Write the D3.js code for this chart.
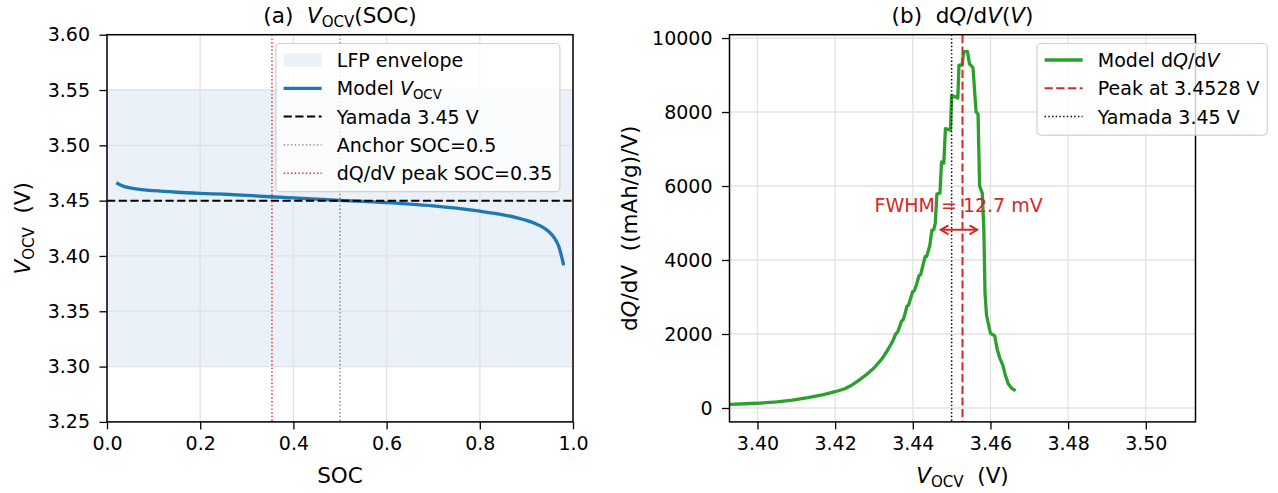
<!DOCTYPE html>
<html>
<head>
<meta charset="utf-8">
<script src="https://cdn.jsdelivr.net/npm/d3@7"></script>
<style>
  body { margin: 0; background: #fff; }
  text { font-family: "DejaVu Sans", sans-serif; white-space: pre; }
</style>
</head>
<body>
<svg id="chart"></svg>
<script>
// ---------------- data ----------------
// panel (a): open circuit voltage vs state of charge
var socValues  = [0.02, 0.03, 0.05, 0.075, 0.10, 0.15, 0.20, 0.25, 0.30, 0.35, 0.40, 0.45, 0.50, 0.55, 0.60,
                  0.65, 0.70, 0.75, 0.80, 0.85, 0.88, 0.90, 0.92, 0.93, 0.94, 0.95, 0.96, 0.97, 0.98];
var vocvValues = [3.4662, 3.4640, 3.4615, 3.4600, 3.4590, 3.4576, 3.4566, 3.4558, 3.4548, 3.4535, 3.4525, 3.4514, 3.4503, 3.4494, 3.4482,
                  3.4469, 3.4453, 3.4432, 3.4405, 3.4372, 3.4345, 3.4322, 3.4292, 3.4272, 3.4247, 3.4213, 3.4163, 3.4080, 3.3915];
var lfpEnvelope = [3.30, 3.55];
var yamadaV = 3.45;
var anchorSoc = 0.5;
var peakSoc = 0.354;

// panel (b): differential capacity vs voltage
var dqdvVoltage = [3.3929, 3.3970, 3.4010, 3.4050, 3.4090, 3.4130, 3.4170, 3.4200, 3.4225, 3.4240, 3.4260, 3.4280, 3.4300, 3.4320,
                   3.4335, 3.4348, 3.4356, 3.4361, 3.4366, 3.4371, 3.4375, 3.4380, 3.4385, 3.4389, 3.4394, 3.4400, 3.4404, 3.4410,
                   3.4416, 3.4420, 3.4426, 3.4432, 3.4436, 3.4444, 3.4449, 3.4454, 3.4458, 3.4462, 3.4470, 3.4474, 3.4480, 3.4484,
                   3.4497, 3.4500, 3.4516, 3.4519, 3.4527, 3.4531, 3.4541, 3.4546, 3.4555, 3.4563, 3.4568, 3.4572, 3.4579, 3.4583,
                   3.4586, 3.4590, 3.4600, 3.4611, 3.4617, 3.4624, 3.4632, 3.4638, 3.4646, 3.4655, 3.4665];
var dqdvValues  = [100, 115, 135, 165, 210, 280, 360, 440, 520, 600, 740, 900, 1080, 1320,
                   1560, 1800, 2000, 2050, 2200, 2350, 2380, 2550, 2750, 2780, 2950, 3150, 3170, 3350,
                   3580, 3600, 3850, 4100, 4100, 4400, 4800, 4820, 5000, 5780, 5810, 6650, 6620, 7550,
                   7510, 8450, 8380, 9270, 9270, 9630, 9630, 9300, 9200, 8000, 7950, 6000, 5800, 4800,
                   3100, 2500, 2020, 1950, 1600, 1350, 1150, 900, 650, 530, 470];
var peakV = 3.4528;
var fwhmEnds = [3.4472, 3.4566];
var fwhmLevel = 4815;
var fwhmLabelAt = [3.4518, 5300];

// ticks
var socTicks  = [0.0, 0.2, 0.4, 0.6, 0.8, 1.0];
var vocvTicks = [3.25, 3.30, 3.35, 3.40, 3.45, 3.50, 3.55, 3.60];
var voltTicks = [3.40, 3.42, 3.44, 3.46, 3.48, 3.50];
var dqdvTicks = [0, 2000, 4000, 6000, 8000, 10000];

// ---------------- setup ----------------
var fs = 19;      // ticks, legend, annotation
var fsL = 21.5;   // titles, axis labels
var svg = d3.select("#chart").attr("width", 1278).attr("height", 493);

var boxL = {x0: 107, x1: 573, y0: 34.7, y1: 421.9};
var boxR = {x0: 729.5, x1: 1195.5, y0: 34.7, y1: 421.9};

var xL = d3.scaleLinear().domain([0, 1]).range([boxL.x0, boxL.x1]);
var yL = d3.scaleLinear().domain([3.25, 3.60]).range([boxL.y1, boxL.y0]);
var xR = d3.scaleLinear().domain([3.3928, 3.5128]).range([boxR.x0, boxR.x1]);
var yR = d3.scaleLinear().domain([-376, 10090]).range([boxR.y1, boxR.y0]);

var defs = svg.append("defs");
[["clipL", boxL], ["clipR", boxR]].forEach(function (c) {
  defs.append("clipPath").attr("id", c[0]).append("rect")
    .attr("x", c[1].x0).attr("y", c[1].y0)
    .attr("width", c[1].x1 - c[1].x0).attr("height", c[1].y1 - c[1].y0);
});

// text with italic / subscript pieces (mathtext look-alike)
function rich(sel, parts, size) {
  var shift = 0;
  parts.forEach(function (p) {
    var t = sel.append("tspan").text(p[0]);
    if (p[1] === "i") t.attr("font-style", "italic");
    if (p[1] === "sub") {
      t.attr("font-size", size * 0.7).attr("dy", size * 0.19);
      shift = size * 0.19;
    } else if (shift) {
      t.attr("dy", -shift);
      shift = 0;
    }
  });
  return sel;
}

function grid(g, box, xs, ys, xt, yt) {
  g.append("g").selectAll("line").data(xt).join("line")
    .attr("x1", function (d) { return xs(d); }).attr("x2", function (d) { return xs(d); })
    .attr("y1", box.y0).attr("y2", box.y1)
    .attr("stroke", "#e2e2e2").attr("stroke-width", 1.3);
  g.append("g").selectAll("line").data(yt).join("line")
    .attr("y1", function (d) { return ys(d); }).attr("y2", function (d) { return ys(d); })
    .attr("x1", box.x0).attr("x2", box.x1)
    .attr("stroke", "#e2e2e2").attr("stroke-width", 1.3);
}

function styleAxis(a) {
  a.attr("font-size", fs).attr("font-family", "DejaVu Sans");
  a.select(".domain").remove();
  a.selectAll("line").attr("stroke", "#000").attr("stroke-width", 1.3);
  a.selectAll("text").attr("fill", "#000");
}

function axes(g, box, xs, ys, xt, yt, xf, yf) {
  g.append("g").attr("transform", "translate(0," + box.y1 + ")")
    .call(d3.axisBottom(xs).tickValues(xt).tickFormat(xf).tickSize(7.5).tickPadding(7.3))
    .call(styleAxis);
  g.append("g").attr("transform", "translate(" + box.x0 + ",0)")
    .call(d3.axisLeft(ys).tickValues(yt).tickFormat(yf).tickSize(7.5).tickPadding(9.5))
    .call(styleAxis);
  g.append("rect").attr("x", box.x0).attr("y", box.y0)
    .attr("width", box.x1 - box.x0).attr("height", box.y1 - box.y0)
    .attr("fill", "none").attr("stroke", "#000").attr("stroke-width", 1.5);
}

function legend(g, x, y, items) {
  var lg = g.append("g");
  var rect = lg.append("rect");
  var rowH = 28.3, maxW = 0;
  items.forEach(function (it, i) {
    var cy = y + 16.5 + i * rowH;
    if (it.kind === "patch") {
      lg.append("rect").attr("x", x + 7.6).attr("y", cy - 6.7).attr("width", 38).attr("height", 13.4)
        .attr("fill", it.fill);
    } else {
      lg.append("line").attr("x1", x + 7.6).attr("x2", x + 45.6).attr("y1", cy).attr("y2", cy)
        .attr("stroke", it.stroke).attr("stroke-width", it.width)
        .attr("stroke-dasharray", it.dash || null);
    }
    var t = lg.append("text").attr("x", x + 60.8).attr("y", cy + 6.9).attr("font-size", fs);
    rich(t, it.label, fs);
    maxW = Math.max(maxW, t.node().getComputedTextLength());
  });
  rect.attr("x", x).attr("y", y).attr("rx", 4).attr("ry", 4)
    .attr("width", 60.8 + maxW + 7.6).attr("height", items.length * rowH + 6.7)
    .attr("fill", "#fff").attr("fill-opacity", 0.8)
    .attr("stroke", "#d0d0d0").attr("stroke-width", 1.2);
}

var spanColor = "#eaf1f8";

// ---------------- panel (a) ----------------
var gA = svg.append("g");
gA.append("rect")
  .attr("x", boxL.x0).attr("width", boxL.x1 - boxL.x0)
  .attr("y", yL(lfpEnvelope[1])).attr("height", yL(lfpEnvelope[0]) - yL(lfpEnvelope[1]))
  .attr("fill", spanColor);
grid(gA, boxL, xL, yL, socTicks, vocvTicks);

var plotA = gA.append("g").attr("clip-path", "url(#clipL)");
plotA.append("path")
  .attr("d", d3.line().curve(d3.curveMonotoneX)
    .x(function (i) { return xL(socValues[i]); }).y(function (i) { return yL(vocvValues[i]); })(d3.range(socValues.length)))
  .attr("fill", "none").attr("stroke", "#1f77b4").attr("stroke-width", 3.3).attr("stroke-linejoin", "round");
plotA.append("line").attr("x1", boxL.x0).attr("x2", boxL.x1).attr("y1", yL(yamadaV)).attr("y2", yL(yamadaV))
  .attr("stroke", "#000").attr("stroke-width", 2).attr("stroke-dasharray", "8.2,3.5");
plotA.append("line").attr("x1", xL(anchorSoc)).attr("x2", xL(anchorSoc)).attr("y1", boxL.y0).attr("y2", boxL.y1)
  .attr("stroke", "#808080").attr("stroke-width", 1.4).attr("stroke-dasharray", "1.4,2.3");
plotA.append("line").attr("x1", xL(peakSoc)).attr("x2", xL(peakSoc)).attr("y1", boxL.y0).attr("y2", boxL.y1)
  .attr("stroke", "#e8202a").attr("stroke-width", 1.4).attr("stroke-dasharray", "1.4,2.3");

axes(gA, boxL, xL, yL, socTicks, vocvTicks, d3.format(".1f"), d3.format(".2f"));

legend(gA, 276, 43.5, [
  {kind: "patch", fill: spanColor, label: [["LFP envelope", ""]]},
  {kind: "line", stroke: "#1f77b4", width: 3.3, label: [["Model ", ""], ["V", "i"], ["OCV", "sub"]]},
  {kind: "line", stroke: "#000", width: 2, dash: "8.2,3.5", label: [["Yamada 3.45 V", ""]]},
  {kind: "line", stroke: "#808080", width: 1.4, dash: "1.4,2.3", label: [["Anchor SOC=0.5", ""]]},
  {kind: "line", stroke: "#e8202a", width: 1.4, dash: "1.4,2.3", label: [["dQ/dV peak SOC=0.35", ""]]}
]);

// titles and labels (a)
rich(svg.append("text").attr("x", (boxL.x0 + boxL.x1) / 2).attr("y", 22.5).attr("text-anchor", "middle").attr("font-size", fsL),
  [["(a)  ", ""], ["V", "i"], ["OCV", "sub"], ["(SOC)", ""]], fsL);
svg.append("text").attr("x", (boxL.x0 + boxL.x1) / 2).attr("y", 483).attr("text-anchor", "middle")
  .attr("font-size", fsL).text("SOC");
rich(svg.append("text").attr("transform", "translate(30," + (boxL.y0 + boxL.y1) / 2 + ") rotate(-90)")
  .attr("text-anchor", "middle").attr("font-size", fsL),
  [["V", "i"], ["OCV", "sub"], ["  (V)", ""]], fsL);

// ---------------- panel (b) ----------------
var gB = svg.append("g");
grid(gB, boxR, xR, yR, voltTicks, dqdvTicks);

var plotB = gB.append("g").attr("clip-path", "url(#clipR)");
plotB.append("path")
  .attr("d", d3.line().x(function (i) { return xR(dqdvVoltage[i]); }).y(function (i) { return yR(dqdvValues[i]); })(d3.range(dqdvVoltage.length)))
  .attr("fill", "none").attr("stroke", "#2ca02c").attr("stroke-width", 3.3).attr("stroke-linejoin", "round");
plotB.append("line").attr("x1", xR(peakV)).attr("x2", xR(peakV)).attr("y1", boxR.y0).attr("y2", boxR.y1)
  .attr("stroke", "#d62728").attr("stroke-width", 2).attr("stroke-dasharray", "8.2,3.5");
plotB.append("line").attr("x1", xR(yamadaV)).attr("x2", xR(yamadaV)).attr("y1", boxR.y0).attr("y2", boxR.y1)
  .attr("stroke", "#000").attr("stroke-width", 1.5).attr("stroke-dasharray", "1.4,2.3");

// FWHM arrow
var ax0 = xR(fwhmEnds[0]), ax1 = xR(fwhmEnds[1]), ay = yR(fwhmLevel);
var arrow = gB.append("g").attr("stroke", "#d62728").attr("stroke-width", 2).attr("fill", "none");
arrow.append("line").attr("x1", ax0).attr("x2", ax1).attr("y1", ay).attr("y2", ay);
arrow.append("path").attr("d", "M" + (ax0 + 7.7) + "," + (ay - 4.5) + "L" + ax0 + "," + ay + "L" + (ax0 + 7.7) + "," + (ay + 4.5));
arrow.append("path").attr("d", "M" + (ax1 - 7.7) + "," + (ay - 4.5) + "L" + ax1 + "," + ay + "L" + (ax1 - 7.7) + "," + (ay + 4.5));
gB.append("text").attr("x", xR(fwhmLabelAt[0])).attr("y", yR(fwhmLabelAt[1])).attr("text-anchor", "middle")
  .attr("font-size", fs).attr("fill", "#d62728").text("FWHM = 12.7 mV");

axes(gB, boxR, xR, yR, voltTicks, dqdvTicks, d3.format(".2f"), d3.format("d"));

legend(gB, 1037, 43.5, [
  {kind: "line", stroke: "#2ca02c", width: 3.3, label: [["Model d", ""], ["Q", "i"], ["/d", ""], ["V", "i"]]},
  {kind: "line", stroke: "#d62728", width: 2, dash: "8.2,3.5", label: [["Peak at 3.4528 V", ""]]},
  {kind: "line", stroke: "#000", width: 1.5, dash: "1.4,2.3", label: [["Yamada 3.45 V", ""]]}
]);

// titles and labels (b)
rich(svg.append("text").attr("x", (boxR.x0 + boxR.x1) / 2).attr("y", 22.5).attr("text-anchor", "middle").attr("font-size", fsL),
  [["(b)  d", ""], ["Q", "i"], ["/d", ""], ["V", "i"], ["(", ""], ["V", "i"], [")", ""]], fsL);
rich(svg.append("text").attr("x", (boxR.x0 + boxR.x1) / 2).attr("y", 483).attr("text-anchor", "middle").attr("font-size", fsL),
  [["V", "i"], ["OCV", "sub"], ["  (V)", ""]], fsL);
rich(svg.append("text").attr("transform", "translate(637," + (boxR.y0 + boxR.y1) / 2 + ") rotate(-90)")
  .attr("text-anchor", "middle").attr("font-size", fsL),
  [["d", ""], ["Q", "i"], ["/dV  ((mAh/g)/V)", ""]], fsL);
</script>
</body>
</html>
